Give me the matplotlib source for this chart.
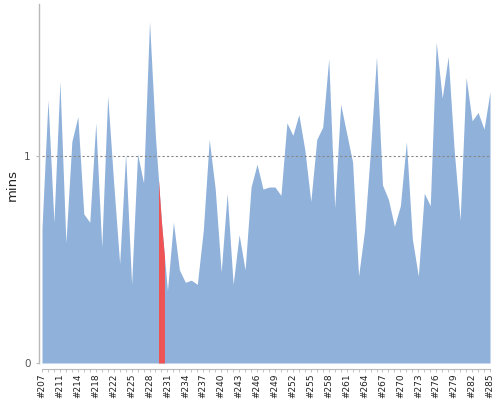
import numpy as np
import matplotlib
matplotlib.use("Agg")
import matplotlib.pyplot as plt
from matplotlib.ticker import FixedLocator

# build durations (minutes), one per build shown on the category axis
durations = [0.65, 1.27, 0.68, 1.36, 0.58, 1.07, 1.19, 0.72, 0.68, 1.16,
             0.56, 1.29, 0.87, 0.48, 1.01, 0.38, 1.01, 0.87, 1.65, 1.09,
             0.68, 0.35, 0.68, 0.45, 0.39, 0.40, 0.38, 0.64, 1.08, 0.84,
             0.44, 0.82, 0.38, 0.62, 0.45, 0.85, 0.96, 0.84, 0.85, 0.85,
             0.81, 1.16, 1.10, 1.20, 1.03, 0.78, 1.08, 1.14, 1.47, 0.75,
             1.25, 1.11, 0.97, 0.42, 0.64, 1.03, 1.48, 0.86, 0.79, 0.66,
             0.76, 1.07, 0.60, 0.42, 0.82, 0.76, 1.55, 1.28, 1.48, 1.03,
             0.69, 1.38, 1.17, 1.21, 1.13, 1.31]
failed_index = 20  # build drawn in red
tick_labels = ["#207", "#211", "#214", "#218", "#222", "#225", "#228", "#231",
               "#234", "#237", "#240", "#243", "#246", "#249", "#252", "#255",
               "#258", "#261", "#264", "#267", "#270", "#273", "#276", "#279",
               "#282", "#285"]

BLUE = "#8fb1da"
RED = "#ef5455"
GREY = "#b8b8b8"

W, H = 500, 400
fig = plt.figure(figsize=(W / 100, H / 100), dpi=100)
left_px, right_px, top_px, bottom_px = 42, 490, 4, 363
ax = fig.add_axes([left_px / W, 1 - bottom_px / H,
                   (right_px - left_px) / W, (bottom_px - top_px) / H])

n = len(durations)
x = np.arange(n)
y = np.array(durations)
ax.fill_between(x, 0, y, color=BLUE, lw=0)

# failed build: half a category on each side of its point
xr = np.array([failed_index - 0.5, failed_index, failed_index + 0.5])
yr = np.interp(xr, x, y)
ax.fill_between(xr, 0, yr, color=RED, lw=0)

ax.axhline(1, color="#888888", lw=0.8, ls=(0, (2, 2)), zorder=3)

ax.set_xlim(0, n - 1)
ax.set_ylim(0, (bottom_px - top_px) / 207.0)

for s in ["top", "right"]:
    ax.spines[s].set_visible(False)
ax.spines["left"].set_position(("outward", 2.5))
ax.spines["bottom"].set_position(("outward", 4.5))
ax.spines["left"].set_color(GREY)
ax.spines["bottom"].set_color(GREY)
ax.spines["left"].set_linewidth(1.0)
ax.spines["bottom"].set_linewidth(0.8)

major = list(range(0, n, 3))
ax.xaxis.set_major_locator(FixedLocator(major))
ax.xaxis.set_minor_locator(FixedLocator(list(range(n))))
ax.set_xticklabels(tick_labels, rotation=90, fontsize=6.5, color="#222222")
ax.tick_params(axis="x", which="both", length=1.8, width=0.6, color=GREY, pad=1.5)

ax.set_yticks([0, 1])
ax.set_yticklabels(["0", "1"], fontsize=7.5, color="#555555")
ax.tick_params(axis="y", length=2.5, width=0.8, color=GREY, pad=3)

ax.set_ylabel("mins", fontsize=9.5, color="#222222")
ax.yaxis.set_label_coords(-23 / (right_px - left_px),
                          0.5 + (bottom_px - 185 - (bottom_px - top_px) / 2) / (bottom_px - top_px))

fig.savefig("out.png", dpi=100)
